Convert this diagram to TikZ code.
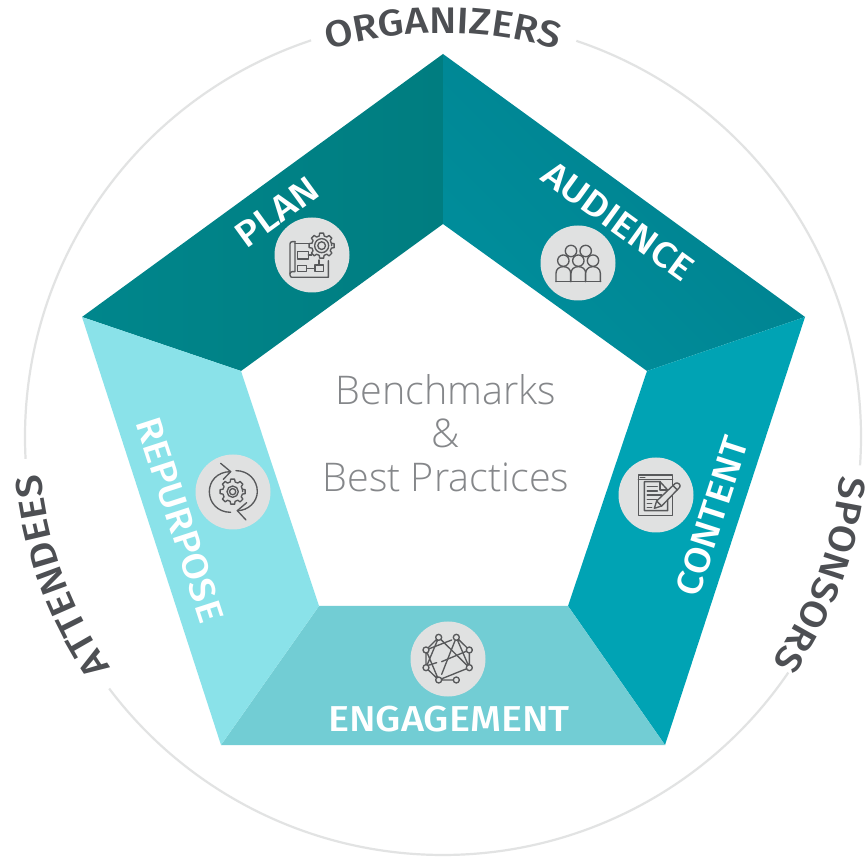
\documentclass[tikz,border=0pt]{standalone}
\usepackage{fontspec}
\setmainfont{Liberation Sans}
\newfontfamily\medfont[FakeStretch=1.1]{Fira Sans Medium}
\newfontfamily\lightfont{Open Sans Light}
\usetikzlibrary{calc,decorations.text}
\definecolor{ringgray}{HTML}{E2E3E3}
\definecolor{discgray}{HTML}{E0E1E1}
\definecolor{icongray}{HTML}{58595B}
\definecolor{labelgray}{HTML}{4D4F53}
\definecolor{midgray}{HTML}{85878A}
\tikzset{
  ringline/.style={draw=ringgray,line width=2.2pt},
  disc/.style={circle,fill=discgray,minimum size=75pt,inner sep=0pt},
  seglabel/.style={text=white,font=\medfont\fontsize{36}{36}\selectfont,inner sep=0pt,anchor=center},
  iconline/.style={draw=icongray,line width=1.35pt,line cap=round,line join=round},
  ringtext/.style={decorate,decoration={text along path,text align=center,text={#1}}}
}
\newcommand{\ringfont}{\color{labelgray}\medfont\fontsize{37}{37}\selectfont}
% gear: centre x,y ; outer, root, inner radii
\newcommand{\gearicon}[5]{%
  \begin{scope}[shift={(#1,#2)}]
    \draw[iconline] (0:#4)
      \foreach \i in {0,45,...,315}{
        -- (\i-14:#4) -- (\i-9:#3) -- (\i+9:#3) -- (\i+14:#4) -- (\i+31:#4)
      } -- cycle;
    \draw[iconline] (0,0) circle[radius=#5];
    \draw[iconline] (0,0) circle[radius=#5*0.55];
  \end{scope}}
\begin{document}
\begin{tikzpicture}[x=1pt,y=1pt]
\useasboundingbox (0,0) rectangle (867,857);
\fill[white] (0,0) rectangle (867,857);
\coordinate (c) at (443,420);
% ring
\draw[ringline] ($(c)+(71.4:418)$) arc[start angle=71.4,end angle=-3.9,radius=418pt];
\draw[ringline] ($(c)+(-34.3:418)$) arc[start angle=-34.3,end angle=-143,radius=418pt];
\draw[ringline] ($(c)+(183:418)$) arc[start angle=183,end angle=108.4,radius=418pt];
\path[ringtext={|\ringfont|ORGANIZERS}] ($(c)+(125:404)$) arc[start angle=125,end angle=55,radius=404pt];
\path[ringtext={|\ringfont|SPONSORS}] ($(c)+(15:399)$) arc[start angle=15,end angle=-55,radius=399pt];
\path[ringtext={|\ringfont|ATTENDEES}] ($(c)+(235:404)$) arc[start angle=235,end angle=165,radius=404pt];
% pentagon
\coordinate (o1) at (443,803);
\coordinate (o2) at (805,540);
\coordinate (o3) at (665,112);
\coordinate (o4) at (221,112);
\coordinate (o5) at (82,540);
\coordinate (i1) at (443,633);
\coordinate (i2) at (647,486);
\coordinate (i3) at (568,251);
\coordinate (i4) at (319,251);
\coordinate (i5) at (241,486);
\shade[shading=axis,left color={rgb,255:red,0;green,134;blue,140},right color={rgb,255:red,0;green,125;blue,128},shading angle=90]
  (o5) -- (o1) -- (i1) -- (i5) -- cycle;
\shade[shading=axis,left color={rgb,255:red,0;green,142;blue,156},right color={rgb,255:red,0;green,128;blue,141},shading angle=135]
  (o1) -- (o2) -- (i2) -- (i1) -- cycle;
\fill[fill={rgb,255:red,0;green,163;blue,180}] (o2) -- (o3) -- (i3) -- (i2) -- cycle;
\fill[fill={rgb,255:red,114;green,205;blue,212}] (o3) -- (o4) -- (i4) -- (i3) -- cycle;
\fill[fill={rgb,255:red,138;green,226;blue,233}] (o4) -- (o5) -- (i5) -- (i4) -- cycle;
% labels
\node[seglabel,rotate=36] (plan) at (277,645) {PLAN};
\node[seglabel,rotate=-36] (audience) at (618,636) {AUDIENCE};
\node[seglabel,rotate=72] (content) at (712,341) {CONTENT};
\node[seglabel] (engagement) at (449,138) {ENGAGEMENT};
\node[seglabel,rotate=-72] (repurpose) at (180,337) {REPURPOSE};
\node[text=midgray,align=center,font=\lightfont\fontsize{39.5}{43.5}\selectfont,inner sep=0pt] (centre) at (446,424) {Benchmarks\\\&\\Best Practices};
% discs
\node[disc] (dplan) at (312,602) {};
\node[disc] (daud) at (578,594) {};
\node[disc] (dcon) at (656,362) {};
\node[disc] (deng) at (448,198) {};
\node[disc] (drep) at (233,365) {};
% plan icon
\begin{scope}[xshift=260pt,yshift=657pt,x=0.3333pt,y=-0.3333pt]
  \draw[iconline] (105,125) -- (97,125) .. controls (92,125) and (90,128) .. (90,132) -- (90,225) .. controls (90,230) and (93,232) .. (97,232) -- (205,232) -- (205,182);
  \draw[iconline] (105,125) -- (105,215) -- (97,215) .. controls (92,215) and (90,218) .. (90,222);
  \draw[iconline] (105,130) -- (150,130);
  \draw[iconline] (112,155) rectangle (145,177);
  \draw[iconline] (112,197) rectangle (140,215);
  \draw[iconline] (165,195) rectangle (190,215);
  \draw[iconline] (145,165) -- (155,165);
  \draw[iconline] (140,206) -- (165,206);
  \draw[iconline] (177,195) -- (177,180);
  \fill[discgray] (185,137) circle[radius=13pt];
  \gearicon{185}{137}{38}{30}{21}
\end{scope}
% audience icon
\begin{scope}[xshift=525pt,yshift=642pt,x=0.3333pt,y=-0.3333pt]
  \foreach \p in {(138,108),(182,108)} \draw[iconline] \p circle[radius=5.7pt];
  \foreach \x in {115,160,204}{
    \fill[discgray] (\x,137) circle[radius=5.7pt];
    \draw[iconline] (\x,137) circle[radius=5.7pt];
    \draw[iconline,fill=discgray] (\x-22,200) -- (\x-22,175) .. controls (\x-22,162) and (\x-12,155) .. (\x,155) .. controls (\x+12,155) and (\x+22,162) .. (\x+22,175) -- (\x+22,200);
  }
  \draw[iconline,line width=1.5pt] (93,200) -- (227,200);
\end{scope}
% content icon
\begin{scope}[xshift=600pt,yshift=417pt,x=0.3333pt,y=-0.3333pt]
  \draw[iconline] (115,105) rectangle (218,226);
  \draw[iconline] (115,118) -- (218,118);
  \draw[iconline,line width=1pt] (120,112) -- (135,112);
  \draw[iconline] (133,125) -- (180,125) -- (203,150) -- (203,212) -- (133,212) -- cycle;
  \draw[iconline] (180,125) -- (180,150) -- (203,150);
  \foreach \y/\e in {140/172,153/172,165/185,178/172,190/155,203/155}
    \draw[iconline,line width=1.6pt] (142,\y) -- (\e,\y);
  \draw[iconline,fill=discgray] (163,205) -- (170,183) -- (226,130) .. controls (232,125) and (245,135) .. (239,142) -- (185,198) -- cycle;
  \draw[iconline] (170,183) -- (185,198);
  \draw[iconline] (219,137) -- (232,150);
\end{scope}
% engagement icon
\begin{scope}[xshift=395pt,yshift=247pt,x=0.3333pt,y=-0.3333pt]
  \coordinate (na) at (131,82); \coordinate (nb) at (184,82);
  \coordinate (nc) at (223,120); \coordinate (nd) at (223,173);
  \coordinate (ne) at (184,210); \coordinate (nf) at (131,210);
  \coordinate (ng) at (93,173); \coordinate (nh) at (93,120);
  \draw[iconline] (nh) -- (na) -- (ng) -- (nh) -- (nf) -- (ng);
  \draw[iconline] (nf) -- (ne) (nf) -- (nd) -- (nc) -- (nb) -- (nd);
  \draw[iconline] (na) -- (nd);
  \draw[iconline] (nb) -- (140,193);
  \draw[iconline] (nc) -- (140,155);
  \draw[iconline] (100,166) -- (125,158);
  \draw[iconline] (nh) -- (170,90);
  \foreach \n in {na,nb,nc,nd,ne,nf,ng,nh}
    \draw[iconline,fill=discgray] (\n) circle[radius=3pt];
\end{scope}
% repurpose icon
\begin{scope}[xshift=180pt,yshift=417pt,x=0.3333pt,y=-0.3333pt]
  \gearicon{158}{155}{38}{30}{17}
  \draw[iconline] (152,95) .. controls (110,95) and (88,125) .. (88,155) .. controls (88,187) and (112,217) .. (152,217);
  \draw[iconline] (122,70) -- (152,95) -- (130,118);
  \draw[iconline] (168,92) .. controls (205,92) and (232,120) .. (232,155) .. controls (232,185) and (205,212) .. (172,212);
  \draw[iconline] (200,188) -- (172,212) -- (198,240);
\end{scope}
\end{tikzpicture}
\end{document}
